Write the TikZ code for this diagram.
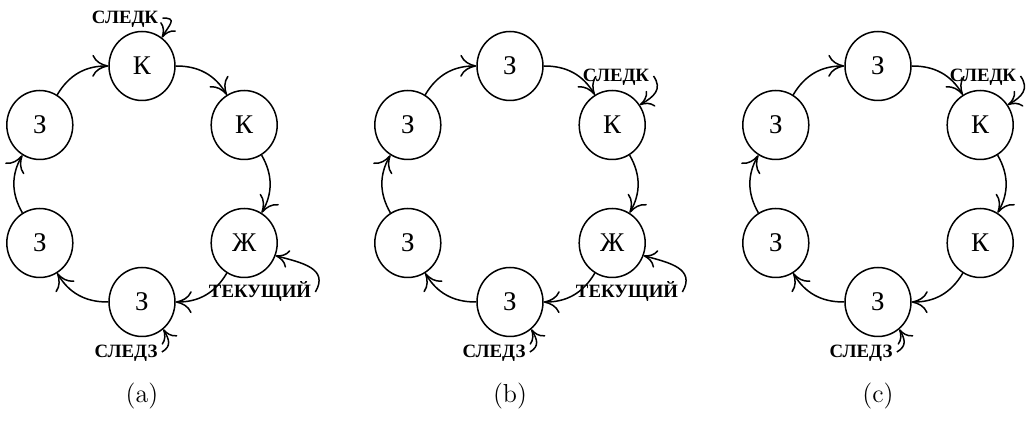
\documentclass[tikz,border=0pt]{standalone}
\usepackage{fontspec}
\newfontfamily\cyrserif{Liberation Serif}
\usetikzlibrary{arrows.meta,shapes.geometric,calc}
\tikzset{
  ringnode/.style={ellipse, draw, line width=0.75pt, minimum width=33pt, minimum height=34.5pt, inner sep=0pt, font=\cyrserif\fontsize{13.5}{15}\selectfont},
  ptrlabel/.style={inner ysep=0pt, inner xsep=2pt, text height=6pt, text depth=0pt, font=\cyrserif\bfseries\fontsize{9.4}{11}\selectfont},
  ringedge/.style={line width=0.75pt, -{Computer Modern Rightarrow[length=8pt,width=11pt]}, bend left=30},
  ptredge/.style={line width=0.75pt, -{Computer Modern Rightarrow[length=6.5pt,width=9pt]}},
  captionlabel/.style={font=\fontsize{13}{15}\selectfont}
}
\newcommand\ringpanel[8]{%
  \node[ringnode] (#1n1) at (#2,-66) {#3};
  \node[ringnode] (#1n2) at ({#2+102.2},-125) {#4};
  \node[ringnode] (#1n3) at ({#2+102.2},-243) {#5};
  \node[ringnode] (#1n4) at (#2,-302) {#6};
  \node[ringnode] (#1n5) at ({#2-102.2},-243) {#7};
  \node[ringnode] (#1n6) at ({#2-102.2},-125) {#8};
  \draw[ringedge] (#1n1) to (#1n2);
  \draw[ringedge] (#1n2) to (#1n3);
  \draw[ringedge] (#1n3) to (#1n4);
  \draw[ringedge] (#1n4) to (#1n5);
  \draw[ringedge] (#1n5) to (#1n6);
  \draw[ringedge] (#1n6) to (#1n1);
}
\begin{document}
\begin{tikzpicture}[x=0.5pt,y=0.5pt]
\useasboundingbox (0,0) rectangle (1030,-422);
% panel (a)
\ringpanel{a}{142}{К}{К}{Ж}{З}{З}{З}
\node[ptrlabel] (aLk) at (125,-18) {СЛЕДК};
\draw[ptredge] (aLk.east) to[out=0,in=60,looseness=2] (an1.55);
\node[ptrlabel] (aLt) at (260,-292) {ТЕКУЩИЙ};
\draw[ptredge] (aLt.east) to[out=60,in=-15,looseness=1.3] (an3.-22);
\node[ptrlabel] (aLz) at (126,-352) {СЛЕДЗ};
\draw[ptredge] (aLz.east) to[out=30,in=-60,looseness=1.3] (an4.-52);
\node[captionlabel] (capa) at (142,-396) {(a)};
% panel (b)
\ringpanel{b}{510}{З}{К}{Ж}{З}{З}{З}
\node[ptrlabel] (bLk) at (616,-76) {СЛЕДК};
\draw[ptredge] (bLk.east) to[out=-55,in=30,looseness=1.3] (bn2.36);
\node[ptrlabel] (bLt) at (627,-292) {ТЕКУЩИЙ};
\draw[ptredge] (bLt.east) to[out=60,in=-15,looseness=1.3] (bn3.-22);
\node[ptrlabel] (bLz) at (494,-352) {СЛЕДЗ};
\draw[ptredge] (bLz.east) to[out=30,in=-60,looseness=1.3] (bn4.-52);
\node[captionlabel] (capb) at (510,-396) {(b)};
% panel (c)
\ringpanel{c}{878}{З}{К}{К}{З}{З}{З}
\node[ptrlabel] (cLk) at (983,-76) {СЛЕДК};
\draw[ptredge] (cLk.east) to[out=-55,in=30,looseness=1.3] (cn2.36);
\node[ptrlabel] (cLz) at (861,-352) {СЛЕДЗ};
\draw[ptredge] (cLz.east) to[out=30,in=-60,looseness=1.3] (cn4.-52);
\node[captionlabel] (capc) at (878,-396) {(c)};
\end{tikzpicture}
\end{document}
